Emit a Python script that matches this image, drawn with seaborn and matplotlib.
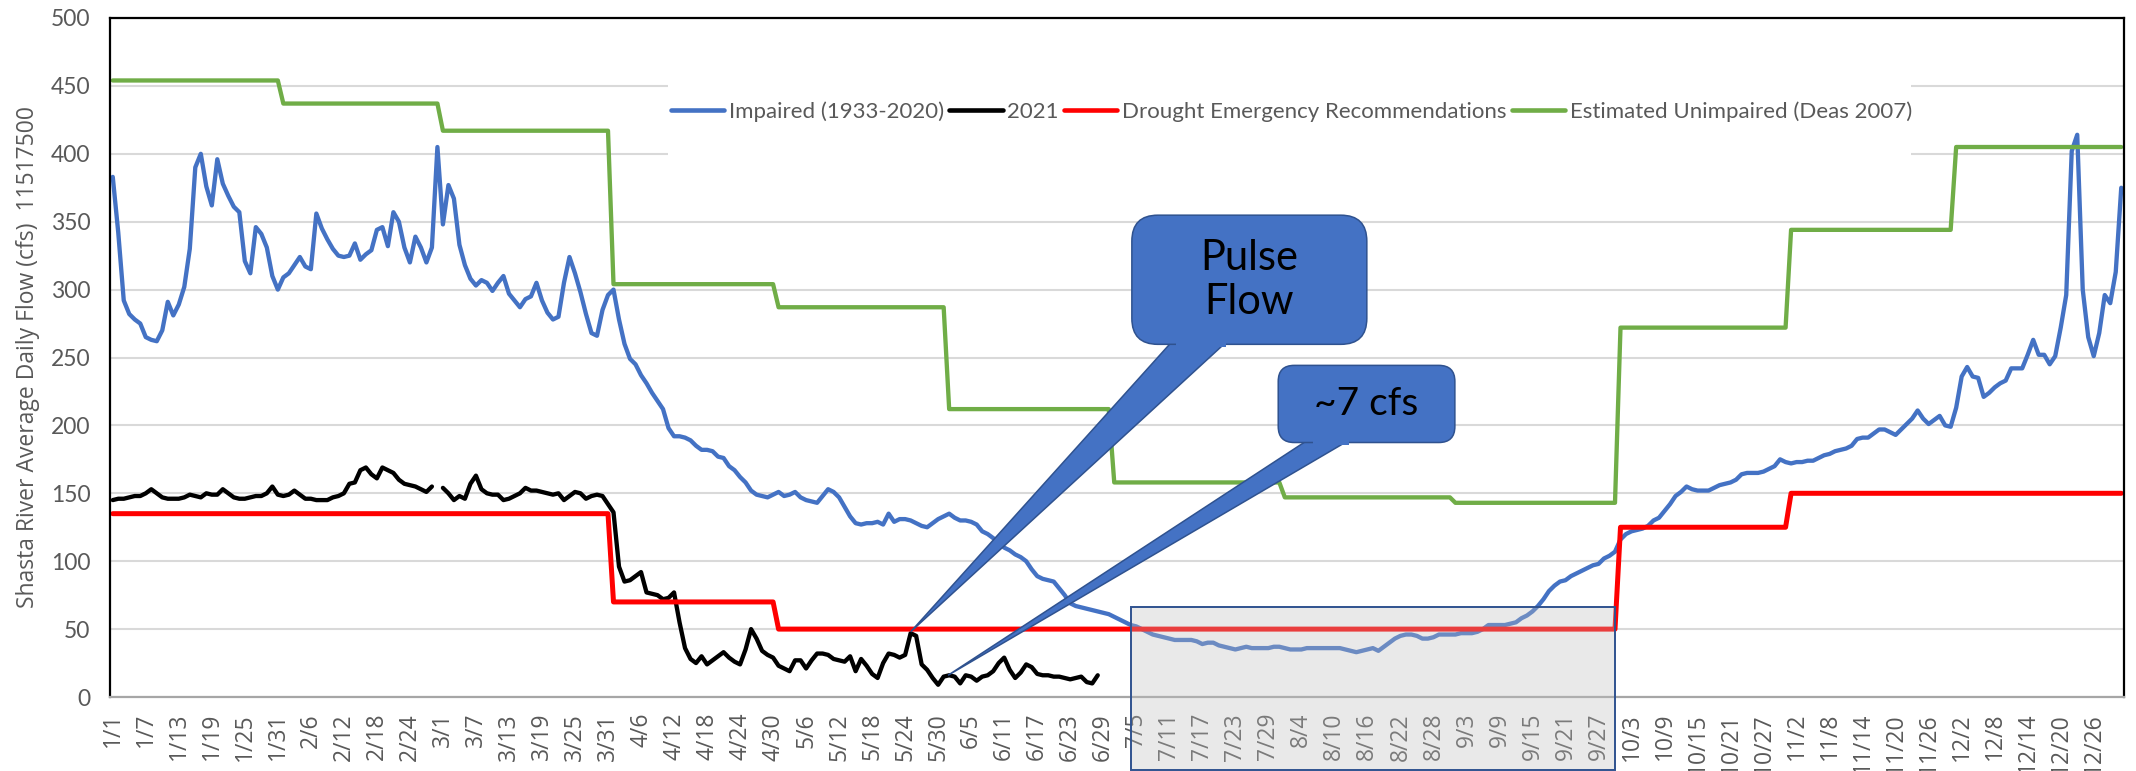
import numpy as np
import pandas as pd
import matplotlib
matplotlib.use("Agg")
import matplotlib.pyplot as plt
import seaborn as sns
from matplotlib.patches import Rectangle, FancyBboxPatch, Polygon
from matplotlib.lines import Line2D
from matplotlib.transforms import IdentityTransform

# ---------------- data ----------------
dates = pd.date_range("2020-01-01", "2020-12-31", freq="D")   # leap-year category axis
day_labels = [f"{d.month}/{d.day}" for d in dates]
days_in_month = [31, 29, 31, 30, 31, 30, 31, 31, 30, 31, 30, 31]

# Impaired (1933-2020) average daily flow, by month
imp_jan = [383, 342, 292, 282, 278, 275, 265, 263, 262, 270, 291, 281, 289, 302, 330, 390, 400, 376, 362, 396,
           378, 369, 361, 357, 321, 312, 346, 341, 331, 310, 300]
imp_feb = [309, 312, 318, 324, 317, 315, 356, 345, 337, 330, 325, 324, 325, 334, 322, 326, 329, 344, 346, 332,
           357, 350, 331, 320, 339, 331, 320, 331, 405]
imp_mar = [348, 377, 367, 333, 318, 308, 303, 307, 305, 299, 305, 310, 297, 292, 287, 293, 295, 305, 292, 283,
           278, 280, 305, 324, 312, 298, 282, 268, 266, 285, 296]
imp_apr = [300, 278, 260, 249, 245, 237, 231, 224, 218, 212, 198, 192, 192, 191, 189, 185, 182, 182, 181, 177,
           176, 170, 167, 162, 158, 152, 149, 148, 147, 149]
imp_may = [151, 148, 149, 151, 147, 145, 144, 143, 148, 153, 151, 147, 140, 133, 128, 127, 128, 128, 129, 127,
           135, 129, 131, 131, 130, 128, 126, 125, 128, 131, 133]
imp_jun = [135, 132, 130, 130, 129, 127, 122, 120, 117, 114, 110, 108, 105, 103, 100, 94, 89, 87, 86, 85,
           80, 75, 69, 67, 66, 65, 64, 63, 62, 61]
imp_jul = [59, 57, 55, 53, 52, 50, 48, 46, 45, 44, 43, 42, 42, 42, 42, 41, 39, 40, 40, 38,
           37, 36, 35, 36, 37, 36, 36, 36, 36, 37, 37]
imp_aug = [36, 35, 35, 35, 36, 36, 36, 36, 36, 36, 36, 35, 34, 33, 34, 35, 36, 34, 37, 40,
           43, 45, 46, 46, 45, 43, 43, 44, 46, 46, 46]
imp_sep = [46, 47, 47, 47, 48, 50, 53, 53, 53, 53, 54, 55, 58, 60, 63, 67, 72, 78, 82, 85,
           86, 89, 91, 93, 95, 97, 98, 102, 104, 107]
imp_oct = [116, 120, 122, 123, 124, 126, 130, 132, 137, 142, 148, 151, 155, 153, 152, 152, 152, 154, 156, 157,
           158, 160, 164, 165, 165, 165, 166, 168, 170, 175, 173]
imp_nov = [172, 173, 173, 174, 174, 176, 178, 179, 181, 182, 183, 185, 190, 191, 191, 194, 197, 197, 195, 193,
           197, 201, 205, 211, 205, 201, 204, 207, 200, 199]
imp_dec = [213, 236, 243, 236, 235, 221, 224, 228, 231, 233, 242, 242, 242, 252, 263, 252, 252, 245, 251, 272,
           296, 402, 414, 300, 265, 251, 268, 296, 290, 313, 375]

# 2021 daily flow (no 2/29 value)
y21_jan = [145, 146, 146, 147, 148, 148, 150, 153, 150, 147, 146, 146, 146, 147, 149, 148, 147, 150, 149, 149,
           153, 150, 147, 146, 146, 147, 148, 148, 150, 155, 149]
y21_feb = [148, 149, 152, 149, 146, 146, 145, 145, 145, 147, 148, 150, 157, 158, 167, 169, 164, 161, 169, 167,
           165, 160, 157, 156, 155, 153, 151, 155, np.nan]
y21_mar = [154, 150, 145, 148, 146, 157, 163, 153, 150, 149, 149, 145, 146, 148, 150, 154, 152, 152, 151, 150,
           149, 150, 145, 148, 151, 150, 146, 148, 149, 148, 142]
y21_apr = [136, 96, 85, 86, 89, 92, 77, 76, 75, 72, 73, 77, 55, 36, 28, 25, 30, 24, 27, 30,
           33, 29, 26, 24, 35, 50, 43, 34, 31, 29]
y21_may = [23, 21, 19, 27, 27, 21, 27, 32, 32, 31, 28, 27, 26, 30, 19, 28, 23, 17, 14, 25,
           32, 31, 29, 31, 47, 45, 24, 20, 14, 9, 15]
y21_jun = [16, 15, 10, 16, 15, 12, 15, 16, 19, 25, 29, 20, 14, 18, 24, 22, 17, 16, 16, 15,
           15, 14, 13, 14, 15, 11, 10, 16]

# Monthly step series
drought_monthly = [135, 135, 135, 70, 50, 50, 50, 50, 50, 125, 150, 150]
unimpaired_monthly = [454, 437, 417, 304, 287, 212, 158, 147, 143, 272, 344, 405]

series_names = ["Impaired (1933-2020)", "2021", "Drought Emergency Recommendations",
                "Estimated Unimpaired (Deas 2007)"]

# ---------------- assemble ----------------
impaired = np.concatenate([imp_jan, imp_feb, imp_mar, imp_apr, imp_may, imp_jun,
                           imp_jul, imp_aug, imp_sep, imp_oct, imp_nov, imp_dec]).astype(float)
y2021 = np.concatenate([y21_jan, y21_feb, y21_mar, y21_apr, y21_may, y21_jun]).astype(float)
drought = np.repeat(drought_monthly, days_in_month).astype(float)
unimpaired = np.repeat(unimpaired_monthly, days_in_month).astype(float)
day_idx = np.arange(len(day_labels))

df21 = pd.DataFrame({"day": day_idx[:len(y2021)], "flow": y2021})
df21["seg"] = (df21["flow"].isna()).cumsum()
df21 = df21.dropna()

C_BLUE, C_BLACK, C_RED, C_GREEN = "#4472C4", "#000000", "#FF0000", "#70AD47"
GREY_TXT = "#595959"

# ---------------- figure ----------------
sns.set_style("white")
plt.rcParams["font.family"] = ["Lato", "DejaVu Sans"]

W, H = 2136, 771
fig = plt.figure(figsize=(W / 100, H / 100), dpi=100)
ax = fig.add_axes([110 / W, 1 - 697 / H, 2014 / W, 679 / H])

lw = 3.1
sns.lineplot(x=day_idx, y=impaired, ax=ax, color=C_BLUE, lw=lw, estimator=None, sort=False,
             solid_capstyle="round", solid_joinstyle="round")
sns.lineplot(data=df21, x="day", y="flow", units="seg", estimator=None, ax=ax, color=C_BLACK, lw=lw,
             solid_capstyle="round", solid_joinstyle="round")
sns.lineplot(x=day_idx, y=drought, ax=ax, color=C_RED, lw=3.6, estimator=None, sort=False,
             solid_capstyle="round", solid_joinstyle="round")
sns.lineplot(x=day_idx, y=unimpaired, ax=ax, color=C_GREEN, lw=lw, estimator=None, sort=False,
             solid_capstyle="round", solid_joinstyle="round")

ax.set_xlim(-0.5, len(day_labels) - 0.5)
ax.set_ylim(0, 500)
ax.set_xlabel("")
ax.set_ylabel("")

ax.set_yticks(np.arange(0, 501, 50))
ax.yaxis.grid(True, color="#D9D9D9", lw=1.5)
ax.xaxis.grid(False)
ax.set_axisbelow(True)

ax.set_xticks(day_idx[::6])
ax.set_xticklabels(day_labels[::6], rotation=90, fontsize=16.5, color=GREY_TXT,
                   family=["Open Sans", "DejaVu Sans"])
ax.tick_params(axis="x", length=0, pad=11.5)
ax.tick_params(axis="y", length=5, width=1.6, color="#262626", pad=9, labelsize=16.5, labelcolor=GREY_TXT)

for s in ["left", "top", "right"]:
    ax.spines[s].set_color("black")
    ax.spines[s].set_linewidth(1.6)
ax.spines["bottom"].set_color("#A6A6A6")
ax.spines["bottom"].set_linewidth(1.6)

fig.text(28 / W, 1 - 357 / H, "Shasta River Average Daily Flow (cfs)  11517500", rotation=90,
         ha="center", va="center", fontsize=16.5, color=GREY_TXT, family=["Open Sans", "DejaVu Sans"])

# legend (white backing box hides gridlines)
ax.add_patch(Rectangle((0.277, 0.794), 0.617, 0.136, transform=ax.transAxes,
                       facecolor="white", edgecolor="none", zorder=1))
handles = [Line2D([], [], color=c, lw=3.3, solid_capstyle="round")
           for c in [C_BLUE, C_BLACK, C_RED, C_GREEN]]
ax.legend(handles, series_names, loc="center", bbox_to_anchor=(0.5866, 0.8616), ncol=4,
          frameon=False, fontsize=16, labelcolor=GREY_TXT, handlelength=2.4,
          handletextpad=0.2, columnspacing=0.25, borderaxespad=0)

# highlighted low-flow window (extends into the label area)
ax.add_patch(Rectangle((185.0, -54), 88.0, 120, facecolor=(0.75, 0.75, 0.75, 0.33),
                       edgecolor="#2F528F", lw=1.4, zorder=4, clip_on=False))

# ---------------- callouts ----------------
def callout(box, base, tip, text, fs, radius):
    T = ax.transData.transform
    (bx0, by0), (bx1, by1) = T((box[0], box[2])), T((box[1], box[3]))
    (wx0, wy), (wx1, _) = T((base[0], box[2])), T((base[1], box[2]))
    tx, ty = T(tip)
    fc, ec = C_BLUE, "#2F528F"
    wedge = Polygon([(wx0, wy + 4), (tx, ty), (wx1, wy + 4)], closed=True, facecolor=fc,
                    edgecolor=ec, lw=1.1, transform=IdentityTransform(), zorder=6)
    fig.add_artist(wedge)
    bb = FancyBboxPatch((bx0, by0), bx1 - bx0, by1 - by0,
                        boxstyle=f"round,pad=0,rounding_size={radius}", facecolor=fc,
                        edgecolor=ec, lw=1.1, transform=IdentityTransform(), zorder=7)
    fig.add_artist(bb)
    cover = Polygon([(wx0 + 2.5, wy - 2.5), (wx1 - 2.5, wy - 2.5), (wx1 - 2.5, wy + 3), (wx0 + 2.5, wy + 3)],
                    closed=True, facecolor=fc, edgecolor="none", transform=IdentityTransform(), zorder=8)
    fig.add_artist(cover)
    fig.text((bx0 + bx1) / 2 / W, (by0 + by1) / 2 / H, text, ha="center", va="center",
             fontsize=fs, color="black", linespacing=1.2, zorder=9)

callout(box=(185.2, 227.9, 259.7, 354.8), base=(192.7, 202.7), tip=(145.0, 48.0),
        text="Pulse\nFlow", fs=30, radius=26)
callout(box=(211.8, 243.9, 187.4, 244.2), base=(217.6, 225.2), tip=(151.8, 16.0),
        text="~7 cfs", fs=28, radius=16)

fig.savefig("out.png", dpi=100)
